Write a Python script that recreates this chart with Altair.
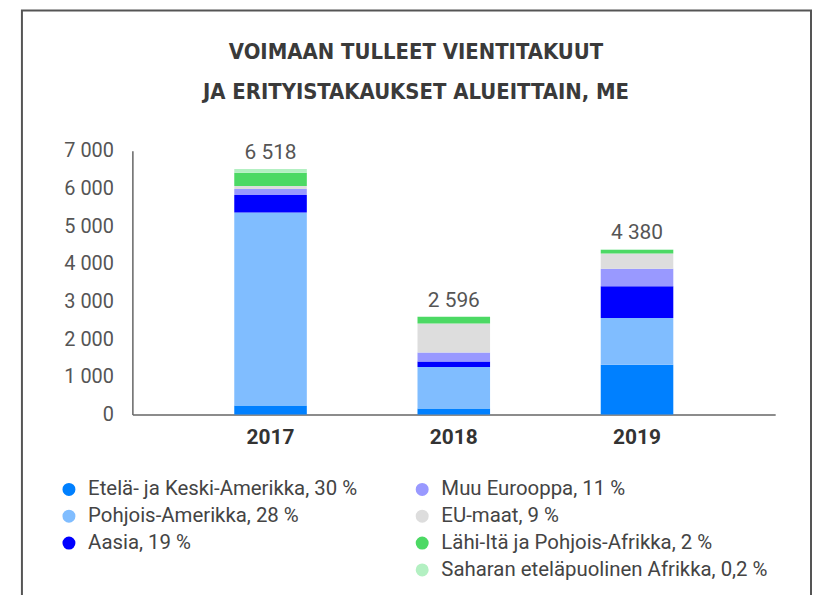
import altair as alt
import pandas as pd

years = ["2017", "2018", "2019"]
regions = [
    "Etelä- ja Keski-Amerikka",
    "Pohjois-Amerikka",
    "Aasia",
    "Muu Eurooppa",
    "EU-maat",
    "Lähi-Itä ja Pohjois-Afrikka",
    "Saharan eteläpuolinen Afrikka",
]
shares = ["30", "28", "19", "11", "9", "2", "0,2"]
colors = ["#0080ff", "#80bdff", "#0000ff", "#9999ff", "#dddddd", "#4cd964", "#b3f0c2"]
y_ticks = [0, 1000, 2000, 3000, 4000, 5000, 6000, 7000]

# values per region (bottom to top), for 2017, 2018, 2019
values = {
    "Etelä- ja Keski-Amerikka": [240, 160, 1320],
    "Pohjois-Amerikka": [5120, 1096, 1240],
    "Aasia": [465, 150, 840],
    "Muu Eurooppa": [160, 238, 470],
    "EU-maat": [80, 767, 400],
    "Lähi-Itä ja Pohjois-Afrikka": [350, 185, 100],
    "Saharan eteläpuolinen Afrikka": [103, 0, 10],
}

labels = [f"{r}, {s} %" for r, s in zip(regions, shares)]
rows = []
for i, (r, lab) in enumerate(zip(regions, labels)):
    for y, v in zip(years, values[r]):
        rows.append({"vuosi": y, "alue": lab, "arvo": v, "jarj": i})
df = pd.DataFrame(rows)

# legend entries fill two columns top-down: first three, an empty slot, then the last four
blank = " "
leg_domain = labels[:3] + [blank] + labels[3:]
leg_range = colors[:3] + ["transparent"] + colors[3:]

font = "Roboto"
xscale = alt.Scale(paddingInner=0.604, paddingOuter=0.556)
yscale = alt.Scale(domain=[0, 7000])

xaxis = alt.Axis(title=None, labelAngle=0, ticks=False, domainColor="#666666",
                 domainWidth=1.5, labelFont=font, labelFontSize=21,
                 labelFontWeight="bold", labelColor="#333333", labelPadding=12)
yaxis = alt.Axis(title=None, values=y_ticks, grid=False, ticks=False,
                 domainColor="#666666", domainWidth=1.5, labelFont=font,
                 labelFontSize=20, labelColor="#555555", labelPadding=19,
                 labelOverlap=False,
                 labelExpr="replace(format(datum.value, ',d'), ',', ' ')")

bars = alt.Chart(df).mark_bar().encode(
    x=alt.X("vuosi:N", scale=xscale, sort=years, axis=xaxis),
    y=alt.Y("arvo:Q", stack="zero", scale=yscale, axis=yaxis),
    color=alt.Color("alue:N", scale=alt.Scale(domain=leg_domain, range=leg_range),
                    legend=alt.Legend(title=None, orient="none", legendX=-74, legendY=330,
                                      columns=2, columnPadding=54, rowPadding=6,
                                      symbolType="circle", symbolSize=170, symbolStrokeWidth=0,
                                      labelFont=font, labelFontSize=20.5, labelColor="#444444",
                                      labelLimit=400, labelOffset=9)),
    order=alt.Order("jarj:Q", sort="ascending"),
)

totals = alt.Chart(df).transform_aggregate(
    summa="sum(arvo)", groupby=["vuosi"]
).transform_calculate(
    teksti="replace(format(datum.summa, ',d'), ',', ' ')"
).mark_text(baseline="bottom", dy=-6, font=font, fontSize=21, color="#555555").encode(
    x=alt.X("vuosi:N", scale=xscale, sort=years, axis=xaxis),
    y=alt.Y("summa:Q", scale=yscale, axis=yaxis),
    text="teksti:N",
)

frame = alt.Chart(pd.DataFrame({"k": [0]})).mark_rect(
    filled=False, stroke="#555555", strokeWidth=2
).encode(
    x=alt.value(-111), x2=alt.value(682), y=alt.value(-141), y2=alt.value(480)
)

chart = alt.layer(bars, totals, frame).properties(
    width=646,
    height=265,
    background="white",
    autosize=alt.AutoSizeParams(type="none"),
    padding={"left": 125, "top": 142, "right": 37, "bottom": 180},
    title=alt.TitleParams(
        text=["VOIMAAN TULLEET VIENTITAKUUT", "JA ERITYISTAKAUKSET ALUEITTAIN, ME"],
        anchor="middle", dx=-38, offset=-95, lineHeight=40,
        font="Liberation Sans Narrow, DejaVu Sans Condensed, Roboto Condensed, Roboto",
        fontSize=22, fontWeight="bold", color="#3a3a3a",
    ),
).configure_view(strokeWidth=0)

chart.save("out.html", embed_options={"renderer": "svg", "actions": False})
